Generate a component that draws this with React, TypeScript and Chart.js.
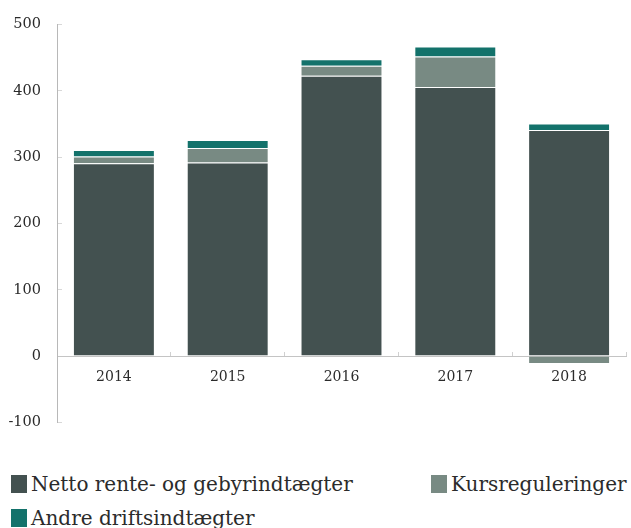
import React, { useEffect, useRef } from "react";
import { Chart, registerables } from "chart.js";

Chart.register(...registerables);

const years = ["2014", "2015", "2016", "2017", "2018"];
const nettoValues = [291, 292, 423, 406, 341];
const kursValues = [10, 22, 15, 46, -12];
const andreValues = [10, 12, 10, 15, 10];
const yTicks = [-100, 0, 100, 200, 300, 400, 500];

const seriesNames = ["Netto rente- og gebyrindtægter", "Kursreguleringer", "Andre driftsindtægter"];
const seriesColors = ["#435150", "#788a83", "#13726b"];

const FONT = "'DejaVu Serif', serif";

export default function App() {
  const canvasRef = useRef<HTMLCanvasElement | null>(null);

  useEffect(() => {
    const canvas = canvasRef.current;
    if (!canvas) return;
    const seriesData = [nettoValues, kursValues, andreValues];
    const chart = new Chart(canvas, {
      type: "bar",
      data: {
        labels: years,
        datasets: seriesNames.map((name, i) => ({
          label: name,
          data: seriesData[i],
          backgroundColor: seriesColors[i],
          borderColor: "rgba(255,255,255,0.35)",
          borderWidth: 1,
          barPercentage: 0.9,
          categoryPercentage: 0.8,
        })),
      },
      options: {
        animation: false,
        responsive: true,
        maintainAspectRatio: false,
        layout: { padding: { top: 0, bottom: 0, left: 0, right: 5 } },
        plugins: {
          legend: { display: false },
          tooltip: { enabled: false },
        },
        scales: {
          x: {
            stacked: true,
            position: { y: 0 } as any,
            grid: {
              drawOnChartArea: false,
              drawTicks: true,
              tickLength: -5,
              color: "#d0d0d0",
              offset: true,
            },
            border: { color: "#c4c4c4", width: 1 },
            ticks: {
              color: "#2b2b2b",
              font: { family: FONT, size: 14 },
              padding: 18,
            },
          },
          y: {
            stacked: true,
            min: -100,
            max: 500,
            afterBuildTicks: (scale: any) => {
              scale.ticks = yTicks.map((v) => ({ value: v }));
            },
            afterFit: (scale: any) => {
              scale.width = 57;
            },
            grid: {
              drawOnChartArea: false,
              drawTicks: true,
              tickLength: -5,
              color: "#d8d8d8",
            },
            border: { color: "#b8b8b8", width: 1 },
            ticks: {
              color: "#2b2b2b",
              font: { family: FONT, size: 14.5 },
              padding: 21,
            },
          },
        },
      },
    });
    return () => chart.destroy();
  }, []);

  return (
    <div style={{ position: "absolute", left: 0, top: 0, width: 631, height: 528, background: "#fff", overflow: "hidden" }}>
      <div style={{ position: "absolute", left: 0, top: -5, width: 631, height: 457 }}>
        <canvas ref={canvasRef} />
      </div>
      <div
        style={{
          position: "absolute",
          left: 11,
          top: 472,
          display: "grid",
          gridTemplateColumns: "420px auto",
          rowGap: 10,
          fontFamily: FONT,
          fontSize: 20,
          lineHeight: "24px",
          color: "#2b2b2b",
        }}
      >
        {seriesNames.map((name, i) => (
          <div key={name} style={{ display: "flex", alignItems: "center", gap: 4, whiteSpace: "nowrap" }}>
            <span style={{ display: "inline-block", width: 16, height: 18, background: seriesColors[i] }} />
            <span>{name}</span>
          </div>
        ))}
      </div>
    </div>
  );
}
